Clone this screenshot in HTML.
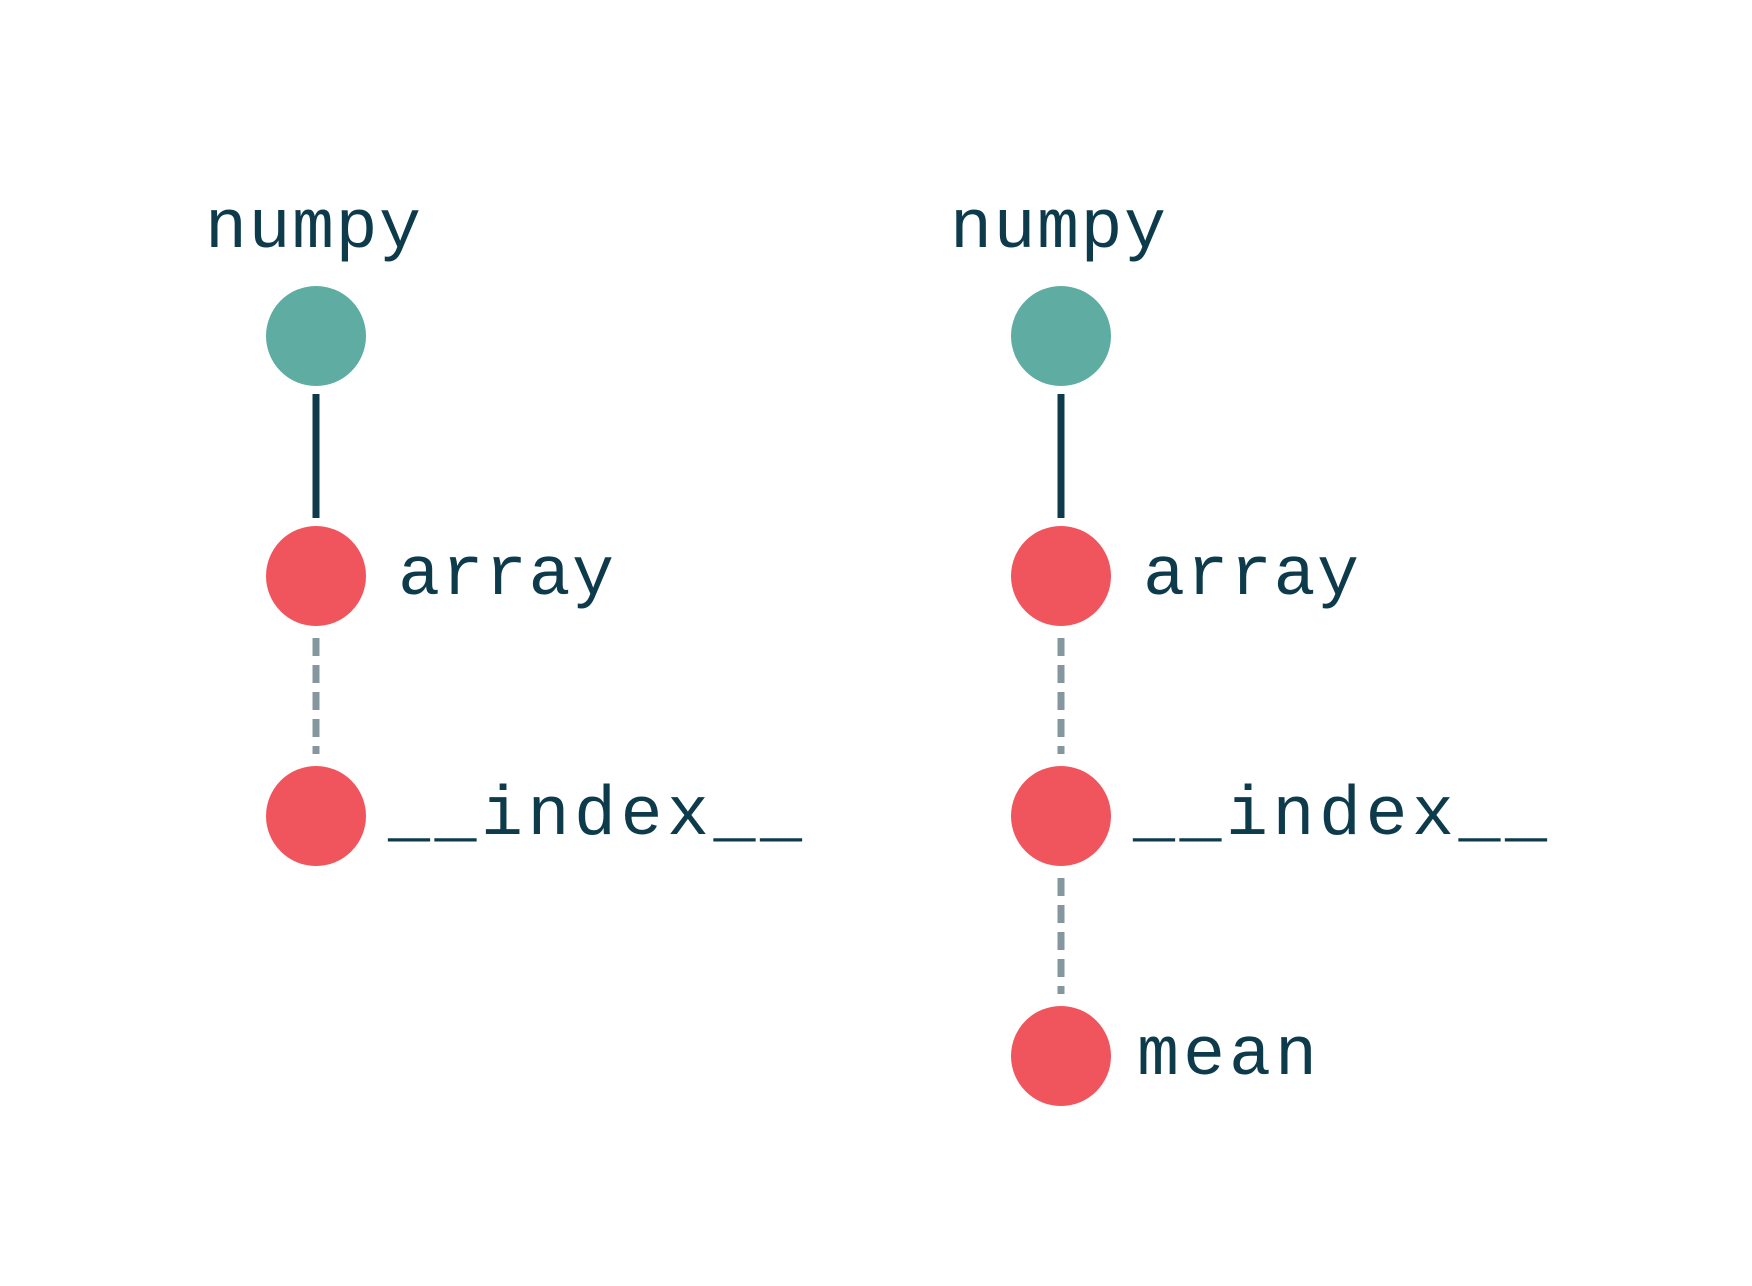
<!DOCTYPE html>
<html><head><meta charset="utf-8"><style>html,body{margin:0;padding:0;background:#fff}svg{display:block}</style></head>
<body>
<svg width="1752" height="1286" viewBox="0 0 1752 1286" xmlns="http://www.w3.org/2000/svg">
<rect width="1752" height="1286" fill="#fff"/>
<g font-family="Liberation Mono, monospace" font-size="70" fill="#0d3b4c">
<text x="205" y="247" textLength="216" lengthAdjust="spacing">numpy</text>
<text x="398" y="594" textLength="216" lengthAdjust="spacing">array</text>
<text x="388" y="834" textLength="414" lengthAdjust="spacing">__index__</text>
<text x="950" y="247" textLength="216" lengthAdjust="spacing">numpy</text>
<text x="1143" y="594" textLength="216" lengthAdjust="spacing">array</text>
<text x="1133" y="834" textLength="414" lengthAdjust="spacing">__index__</text>
<text x="1137" y="1074" textLength="180" lengthAdjust="spacing">mean</text>
</g>
<g stroke="#0d3b4c" stroke-width="7">
<line x1="316" y1="394" x2="316" y2="518"/>
<line x1="1061" y1="394" x2="1061" y2="518"/>
</g>
<g stroke="#84979f" stroke-width="7" stroke-dasharray="18 9">
<line x1="316" y1="638" x2="316" y2="754"/>
<line x1="1061" y1="638" x2="1061" y2="754"/>
<line x1="1061" y1="878" x2="1061" y2="994"/>
</g>
<circle cx="316" cy="336" r="50" fill="#5fada2"/>
<circle cx="1061" cy="336" r="50" fill="#5fada2"/>
<g fill="#f0555d">
<circle cx="316" cy="576" r="50"/>
<circle cx="316" cy="816" r="50"/>
<circle cx="1061" cy="576" r="50"/>
<circle cx="1061" cy="816" r="50"/>
<circle cx="1061" cy="1056" r="50"/>
</g>
</svg>
</body></html>
